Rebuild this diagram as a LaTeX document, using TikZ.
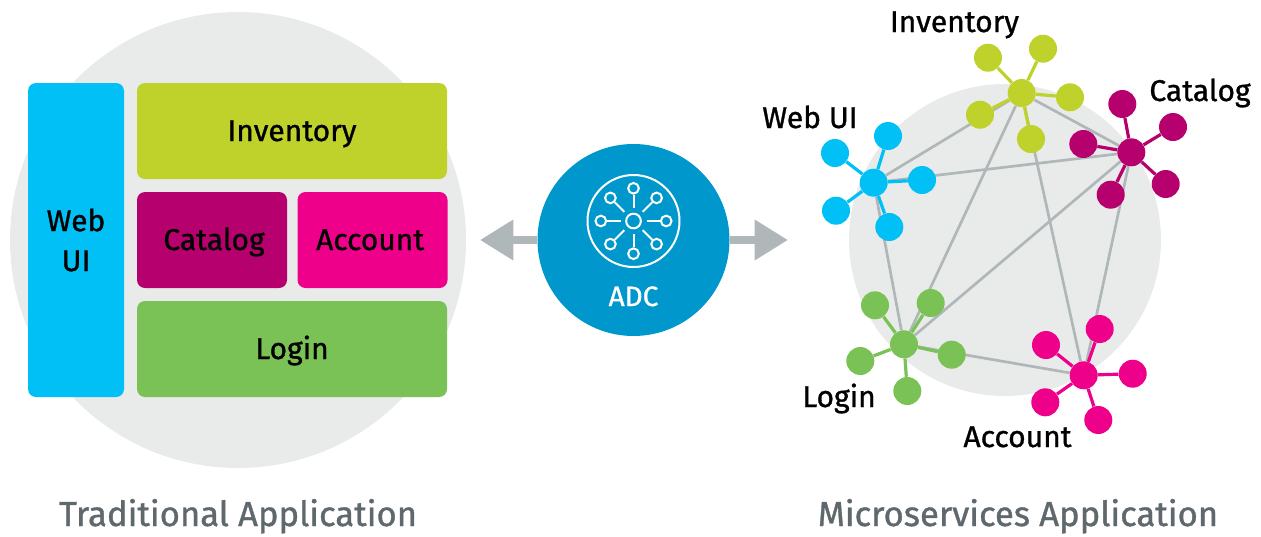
\documentclass[tikz,border=0pt]{standalone}
\usepackage{fontspec}
\setmainfont{Fira Sans}[FakeBold=1]
\usepackage{xcolor}
\usetikzlibrary{arrows.meta, positioning, backgrounds}

\definecolor{webcol}{HTML}{00C0F5}
\definecolor{invcol}{HTML}{BFD22B}
\definecolor{catcol}{HTML}{B5006E}
\definecolor{acccol}{HTML}{EE008B}
\definecolor{logcol}{HTML}{7AC255}
\definecolor{adccol}{HTML}{0098CC}
\definecolor{diskcol}{HTML}{E8EBEA}
\definecolor{linkcol}{HTML}{B0B7B9}
\definecolor{titlecol}{HTML}{5F686D}

\tikzset{
    appbox/.style={rounded corners=6pt, inner sep=0pt, font=\fontsize{22.5}{27}\selectfont},
    linebox/.style={appbox, text height=15pt, text depth=0pt},
    greydisk/.style={circle, fill=diskcol, inner sep=0pt},
    hubdot/.style={circle, fill=#1, inner sep=0pt, minimum size=21pt},
    leafdot/.style={circle, fill=#1, inner sep=0pt, minimum size=21pt},
    hublink/.style={draw=linkcol, line width=2pt},
    spoke/.style={draw=#1, line width=2.4pt},
    svcname/.style={font=\fontsize{22.5}{27}\selectfont, inner sep=0pt, anchor=base},
    apptitle/.style={font=\fontsize{26}{30}\selectfont, text=titlecol, inner sep=0pt, anchor=base},
    icondot/.style={circle, draw=white, line width=1.5pt, inner sep=0pt, minimum size=8pt},
    iconline/.style={draw=white, line width=1.5pt, shorten <=3.5pt},
    bigarrow/.style={draw=linkcol, line width=6pt, -{Triangle[length=25pt, width=29pt]}}
}

\begin{document}
\begin{tikzpicture}[x=0.75pt, y=-0.75pt]
    \useasboundingbox (0,0) rectangle (1261,536);

    % Traditional application
    \node[greydisk, minimum size=342pt] (tradDisk) at (238,240) {};
    \node[appbox, fill=webcol, minimum width=72pt, minimum height=235.5pt, align=center] (tradWeb) at (76,240) {Web\\[3pt]UI};
    \node[linebox, fill=invcol, minimum width=232.5pt, minimum height=72pt] (tradInv) at (292,131) {Inventory};
    \node[linebox, fill=catcol, minimum width=112.5pt, minimum height=72pt] (tradCat) at (212,240) {\hspace*{3pt}Catalog};
    \node[linebox, fill=acccol, minimum width=112.5pt, minimum height=72pt] (tradAcc) at (372.5,240) {Account\hspace*{3.5pt}};
    \node[linebox, fill=logcol, minimum width=232.5pt, minimum height=72pt] (tradLog) at (292,349) {Login};
    \node[apptitle] (tradTitle) at (238,526) {Traditional Application};

    % ADC
    \coordinate (leftTip) at (480,240);
    \coordinate (rightTip) at (788,240);
    \node[circle, fill=adccol, inner sep=0pt, minimum size=144pt] (adc) at (633.5,240) {};
    \node[text=white, font=\fontsize{21}{25}\selectfont, inner sep=0pt, anchor=base] (adcText) at (633.5,306) {ADC};
    \node[circle, draw=white, line width=1.5pt, inner sep=0pt, minimum size=69pt] (iconRing) at (633.5,221) {};
    \node[circle, draw=white, line width=1.5pt, inner sep=0pt, minimum size=11pt] (iconHub) at (633.5,221) {};
    \node[icondot] (icon1) at (633.5,188.3) {};
    \node[icondot] (icon2) at (656.6,197.9) {};
    \node[icondot] (icon3) at (666.2,221) {};
    \node[icondot] (icon4) at (656.6,244.1) {};
    \node[icondot] (icon5) at (633.5,253.7) {};
    \node[icondot] (icon6) at (610.4,244.1) {};
    \node[icondot] (icon7) at (600.8,221) {};
    \node[icondot] (icon8) at (610.4,197.9) {};
    \draw[iconline] (iconHub) -- (icon1);
    \draw[iconline] (iconHub) -- (icon2);
    \draw[iconline] (iconHub) -- (icon3);
    \draw[iconline] (iconHub) -- (icon4);
    \draw[iconline] (iconHub) -- (icon5);
    \draw[iconline] (iconHub) -- (icon6);
    \draw[iconline] (iconHub) -- (icon7);
    \draw[iconline] (iconHub) -- (icon8);

    % Web UI
    \node[hubdot=webcol] (webHub) at (873.7,182.7) {};
    \node[leafdot=webcol] (web1) at (835,153) {};
    \node[leafdot=webcol] (web2) at (888,136) {};
    \node[leafdot=webcol] (web3) at (922,180) {};
    \node[leafdot=webcol] (web4) at (889.3,227) {};
    \node[leafdot=webcol] (web5) at (836,210.7) {};
    \node[svcname] (webName) at (810,128) {Web UI};

    % Inventory
    \node[hubdot=invcol] (invHub) at (1021.7,93) {};
    \node[leafdot=invcol] (inv1) at (988,57.7) {};
    \node[leafdot=invcol] (inv2) at (1043,48.7) {};
    \node[leafdot=invcol] (inv3) at (1070,97.3) {};
    \node[leafdot=invcol] (inv4) at (1031,139) {};
    \node[leafdot=invcol] (inv5) at (980,114.7) {};
    \node[svcname] (invName) at (954.5,32) {Inventory};

    % Catalog
    \node[hubdot=catcol] (catHub) at (1131.3,152.3) {};
    \node[leafdot=catcol] (cat1) at (1122.3,104) {};
    \node[leafdot=catcol] (cat2) at (1173,127) {};
    \node[leafdot=catcol] (cat3) at (1165.7,184) {};
    \node[leafdot=catcol] (cat4) at (1110.7,194.7) {};
    \node[leafdot=catcol] (cat5) at (1083.3,144) {};
    \node[svcname] (catName) at (1200,101) {Catalog};

    % Login
    \node[hubdot=logcol] (logHub) at (904,344.3) {};
    \node[leafdot=logcol] (log1) at (875,305.3) {};
    \node[leafdot=logcol] (log2) at (930.7,303) {};
    \node[leafdot=logcol] (log3) at (951.7,354.7) {};
    \node[leafdot=logcol] (log4) at (907.3,391) {};
    \node[leafdot=logcol] (log5) at (860.3,361) {};
    \node[svcname] (logName) at (839,407) {Login};

    % Account
    \node[hubdot=acccol] (accHub) at (1083.7,375.3) {};
    \node[leafdot=acccol] (acc1) at (1046,345) {};
    \node[leafdot=acccol] (acc2) at (1099.7,329) {};
    \node[leafdot=acccol] (acc3) at (1132.7,373.7) {};
    \node[leafdot=acccol] (acc4) at (1098.3,420) {};
    \node[leafdot=acccol] (acc5) at (1045.3,402.3) {};
    \node[svcname] (accName) at (1017.5,447) {Account};

    \node[apptitle] (microTitle) at (1018,526) {Microservices Application};

    \begin{pgfonlayer}{background}
        \node[greydisk, minimum size=234pt] (microDisk) at (1005,240) {};
        % Links
        \draw[hublink] (webHub) -- (invHub);
        \draw[hublink] (webHub) -- (catHub);
        \draw[hublink] (webHub) -- (logHub);
        \draw[hublink] (invHub) -- (catHub);
        \draw[hublink] (invHub) -- (logHub);
        \draw[hublink] (invHub) -- (accHub);
        \draw[hublink] (catHub) -- (logHub);
        \draw[hublink] (catHub) -- (accHub);
        \draw[hublink] (logHub) -- (accHub);
        % Spokes
        \draw[spoke=webcol] (webHub) -- (web1);
        \draw[spoke=webcol] (webHub) -- (web2);
        \draw[spoke=webcol] (webHub) -- (web3);
        \draw[spoke=webcol] (webHub) -- (web4);
        \draw[spoke=webcol] (webHub) -- (web5);
        \draw[spoke=invcol] (invHub) -- (inv1);
        \draw[spoke=invcol] (invHub) -- (inv2);
        \draw[spoke=invcol] (invHub) -- (inv3);
        \draw[spoke=invcol] (invHub) -- (inv4);
        \draw[spoke=invcol] (invHub) -- (inv5);
        \draw[spoke=catcol] (catHub) -- (cat1);
        \draw[spoke=catcol] (catHub) -- (cat2);
        \draw[spoke=catcol] (catHub) -- (cat3);
        \draw[spoke=catcol] (catHub) -- (cat4);
        \draw[spoke=catcol] (catHub) -- (cat5);
        \draw[spoke=logcol] (logHub) -- (log1);
        \draw[spoke=logcol] (logHub) -- (log2);
        \draw[spoke=logcol] (logHub) -- (log3);
        \draw[spoke=logcol] (logHub) -- (log4);
        \draw[spoke=logcol] (logHub) -- (log5);
        \draw[spoke=acccol] (accHub) -- (acc1);
        \draw[spoke=acccol] (accHub) -- (acc2);
        \draw[spoke=acccol] (accHub) -- (acc3);
        \draw[spoke=acccol] (accHub) -- (acc4);
        \draw[spoke=acccol] (accHub) -- (acc5);
        % Arrows
        \draw[bigarrow] (adc) -- (leftTip);
        \draw[bigarrow] (adc) -- (rightTip);
    \end{pgfonlayer}
\end{tikzpicture}
\end{document}
